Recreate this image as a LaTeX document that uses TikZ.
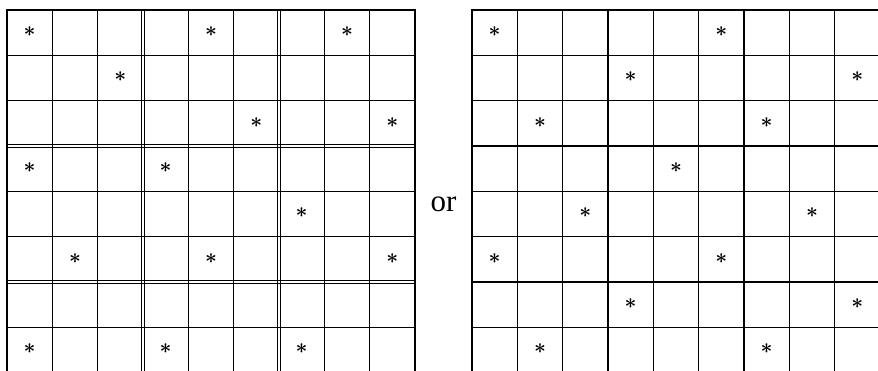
\documentclass[tikz,border=0pt]{standalone}
\usepackage{fontspec}
\setmainfont{Liberation Serif}
\begin{document}
\begin{tikzpicture}[x=1pt,y=-1pt,
  gridline/.style={line width=1.2pt, black},
  thinline/.style={line width=1pt, black},
  border/.style={line width=2pt, black},
  star/.style={font=\fontsize{21}{21}\selectfont\boldmath, inner sep=0pt},
  ortext/.style={font=\fontsize{31}{31}\selectfont, inner sep=0pt}]
\def\s{45.33}
\useasboundingbox (0,0) rectangle (878,371);
\clip (0,0) rectangle (878,371);
% ---- left grid (blocks of 3 with double lines) ----
\foreach \i in {1,2,4,5,7,8} {
  \draw[gridline] (7+\i*\s,10) -- (7+\i*\s,418);
  \draw[gridline] (7,10+\i*\s) -- (415,10+\i*\s);
}
\foreach \i in {3,6} {
  \draw[thinline] (7+\i*\s-1.7,10) -- (7+\i*\s-1.7,418);
  \draw[thinline] (7+\i*\s+1.7,10) -- (7+\i*\s+1.7,418);
  \draw[thinline] (7,10+\i*\s-1.7) -- (415,10+\i*\s-1.7);
  \draw[thinline] (7,10+\i*\s+1.7) -- (415,10+\i*\s+1.7);
}
\draw[border] (7,10) rectangle (415,418);
% ---- right grid ----
\foreach \i in {1,...,8} {
  \draw[gridline] (472+\i*\s,10) -- (472+\i*\s,418);
  \draw[gridline] (472,10+\i*\s) -- (880,10+\i*\s);
}
\draw[border] (472,10) rectangle (880,418);
% ---- stars, left grid ----
\foreach \c/\r in {1/1,5/1,8/1,3/2,6/3,9/3,1/4,4/4,7/5,2/6,5/6,9/6,1/8,4/8,7/8}
  \node[star] (L-\c-\r) at (7+\c*\s-0.5*\s, 10+\r*\s-0.5*\s-1) {$\ast$};
% ---- stars, right grid ----
\foreach \c/\r in {1/1,6/1,4/2,9/2,2/3,7/3,5/4,3/5,8/5,1/6,6/6,4/7,9/7,2/8,7/8}
  \node[star] (R-\c-\r) at (472+\c*\s-0.5*\s, 10+\r*\s-0.5*\s-1) {$\ast$};
% ---- "or" ----
\node[ortext] (or) at (443.5,204.5) {or};
\end{tikzpicture}
\end{document}
